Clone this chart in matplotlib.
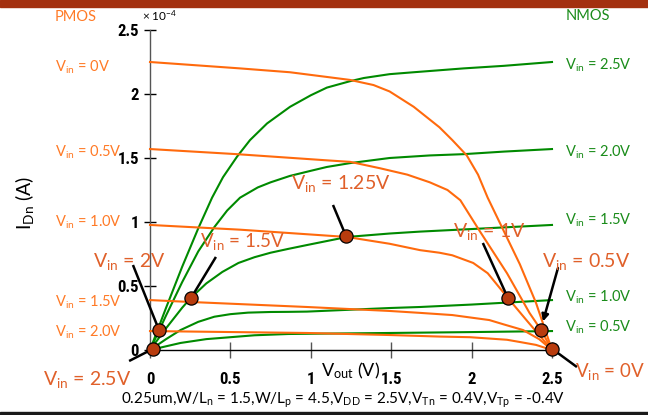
import matplotlib
matplotlib.use('Agg')
import matplotlib.pyplot as plt
from matplotlib import font_manager as fm
from matplotlib.patches import Rectangle

# ---------------- data (I in units of 1e-4 A) ----------------
vin_nmos = ['2.5V', '2.0V', '1.5V', '1.0V', '0.5V']
vin_pmos = ['0V', '0.5V', '1.0V', '1.5V', '2.0V']

nmos_25_x = [0, 0.1, 0.2, 0.3, 0.386, 0.454, 0.541, 0.622, 0.728, 0.871, 1.0, 1.10, 1.244, 1.33, 1.49, 1.64, 1.95, 2.2, 2.5]
nmos_25_y = [0, 0.33, 0.65, 0.95, 1.19, 1.35, 1.51, 1.64, 1.77, 1.90, 1.99, 2.05, 2.10, 2.125, 2.155, 2.17, 2.20, 2.22, 2.25]
nmos_20_x = [0, 0.1, 0.2, 0.3, 0.40, 0.48, 0.56, 0.67, 0.75, 0.87, 1.0, 1.10, 1.244, 1.49, 1.74, 1.95, 2.2, 2.5]
nmos_20_y = [0, 0.27, 0.53, 0.77, 0.96, 1.09, 1.19, 1.27, 1.31, 1.36, 1.40, 1.43, 1.46, 1.50, 1.52, 1.53, 1.55, 1.57]
nmos_15_x = [0, 0.1, 0.2, 0.253, 0.35, 0.45, 0.55, 0.65, 0.75, 0.86, 0.976, 1.225, 1.49, 1.68, 2.0, 2.5]
nmos_15_y = [0, 0.17, 0.33, 0.406, 0.52, 0.61, 0.68, 0.725, 0.76, 0.79, 0.82, 0.883, 0.91, 0.925, 0.945, 0.977]
nmos_10_x = [0, 0.1, 0.19, 0.3, 0.40, 0.5, 0.61, 0.75, 0.86, 0.976, 1.49, 1.68, 2.0, 2.5]
nmos_10_y = [0, 0.085, 0.156, 0.22, 0.26, 0.28, 0.292, 0.297, 0.298, 0.30, 0.328, 0.336, 0.355, 0.39]
nmos_05_x = [0, 0.19, 0.35, 0.50, 0.65, 0.86, 1.0, 1.49, 2.0, 2.5]
nmos_05_y = [0, 0.055, 0.085, 0.10, 0.115, 0.125, 0.127, 0.133, 0.14, 0.148]

pmos_00_x = [0, 0.56, 0.87, 1.12, 1.244, 1.39, 1.49, 1.64, 1.80, 1.88, 1.97, 2.04, 2.10, 2.20, 2.30, 2.40, 2.5]
pmos_00_y = [2.25, 2.20, 2.17, 2.13, 2.11, 2.07, 2.02, 1.90, 1.74, 1.64, 1.52, 1.37, 1.19, 0.93, 0.67, 0.37, 0.0]
pmos_05_x = [0, 0.54, 1.12, 1.244, 1.43, 1.60, 1.74, 1.85, 1.93, 2.05, 2.22, 2.36, 2.43, 2.5]
pmos_05_y = [1.57, 1.53, 1.48, 1.47, 1.42, 1.37, 1.31, 1.25, 1.17, 0.93, 0.60, 0.29, 0.16, 0.0]
pmos_10_x = [0, 0.56, 1.225, 1.49, 1.68, 1.80, 1.88, 2.01, 2.10, 2.226, 2.35, 2.5]
pmos_10_y = [0.977, 0.94, 0.883, 0.83, 0.78, 0.76, 0.74, 0.68, 0.60, 0.406, 0.22, 0.0]
pmos_15_x = [0, 0.255, 0.976, 1.49, 1.68, 1.88, 2.11, 2.20, 2.32, 2.42, 2.5]
pmos_15_y = [0.39, 0.375, 0.336, 0.305, 0.29, 0.273, 0.234, 0.20, 0.156, 0.085, 0.0]
pmos_20_x = [0, 0.976, 1.49, 1.80, 1.99, 2.22, 2.30, 2.40, 2.5]
pmos_20_y = [0.148, 0.133, 0.117, 0.105, 0.10, 0.08, 0.0625, 0.04, 0.0]

nmos_x = [nmos_25_x, nmos_20_x, nmos_15_x, nmos_10_x, nmos_05_x]
nmos_y = [nmos_25_y, nmos_20_y, nmos_15_y, nmos_10_y, nmos_05_y]
pmos_x = [pmos_00_x, pmos_05_x, pmos_10_x, pmos_15_x, pmos_20_x]
pmos_y = [pmos_00_y, pmos_05_y, pmos_10_y, pmos_15_y, pmos_20_y]

# operating points (intersections) and pointer tails
op_labels = ['2.5V', '2V', '1.5V', '1.25V', '1V', '0.5V', '0V']
op_x = [0.02, 0.056, 0.255, 1.219, 2.226, 2.43, 2.50]
op_y = [0.01, 0.156, 0.406, 0.89, 0.406, 0.16, 0.01]
tail_x = [-0.13, -0.106, 0.41, 1.138, 2.07, 2.537, 2.655]
tail_y = [-0.086, 0.664, 0.727, 1.133, 0.836, 0.64, -0.133]

tick_vals = [0, 0.5, 1, 1.5, 2, 2.5]
tick_text = ['0', '0.5', '1', '1.5', '2', '2.5']

# ---------------- style ----------------
names = {f.name for f in fm.fontManager.ttflist}
TICK_STRETCH = 'normal'
if 'Liberation Sans Narrow' in names:
    TICKF = ['Liberation Sans Narrow', 'DejaVu Sans']
elif 'Roboto Condensed' in names:
    TICKF = ['Roboto Condensed', 'DejaVu Sans']
elif any(f.name == 'DejaVu Sans' and f.stretch not in ('normal', 500) for f in fm.fontManager.ttflist):
    TICKF = ['DejaVu Sans']
    TICK_STRETCH = 'condensed'
else:
    TICKF = ['Liberation Sans', 'DejaVu Sans']
LABF = ['Lato', 'DejaVu Sans']
plt.rcParams['mathtext.default'] = 'regular'

ORANGE = '#FF6A0D'
ORANGE_LBL = '#FF7A26'
ORANGE_BIG = '#E0602A'
GREEN = '#008A00'
GREEN_LBL = '#1A8C1A'
DOT = '#B83C0E'

W, H = 648, 415
fig = plt.figure(figsize=(W / 100, H / 100), dpi=100)
ax = fig.add_axes([150 / W, 65 / H, 402 / W, 320 / H])


def fx(px):
    return px / W


def fy(py):
    return 1 - py / H


for xs, ys in zip(nmos_x, nmos_y):
    ax.plot(xs, ys, color=GREEN, lw=1.5, clip_on=False, zorder=3, solid_joinstyle='round')
for xs, ys in zip(pmos_x, pmos_y):
    ax.plot(xs, ys, color=ORANGE, lw=1.5, clip_on=False, zorder=3, solid_joinstyle='round')

for i in range(len(op_x)):
    if op_labels[i] == '0.5V':
        ax.annotate('', xy=(op_x[i], op_y[i]), xytext=(tail_x[i], tail_y[i]),
                    arrowprops=dict(arrowstyle='-|>', color='black', lw=1.8,
                                    shrinkA=0, shrinkB=6, mutation_scale=10),
                    annotation_clip=False, zorder=4)
    else:
        ax.plot([tail_x[i], op_x[i]], [tail_y[i], op_y[i]], color='black', lw=1.8,
                clip_on=False, zorder=4, solid_capstyle='butt')
ax.plot(op_x, op_y, 'o', ms=9.5, mfc=DOT, mec='black', mew=0.9, clip_on=False, zorder=5, ls='none')

ax.set_xlim(0, 2.5)
ax.set_ylim(0, 2.5)
for s in ['top', 'right']:
    ax.spines[s].set_visible(False)
ax.spines['left'].set_color('#555555')
ax.spines['left'].set_linewidth(1.0)
ax.spines['bottom'].set_color('black')
ax.spines['bottom'].set_linewidth(1.0)
ax.set_xticks(tick_vals)
ax.set_xticklabels(tick_text)
ax.set_yticks(tick_vals)
ax.set_yticklabels(tick_text)
ax.tick_params(axis='y', direction='inout', length=8, width=1, pad=4, colors='black')
ax.tick_params(axis='x', direction='inout', length=11, width=1, pad=10, color='#555555')
for lab in ax.get_xticklabels() + ax.get_yticklabels():
    lab.set_family(TICKF)
    lab.set_fontweight('bold')
    lab.set_fontstretch(TICK_STRETCH)
    lab.set_fontsize(12)

# background bands
fig.patches.append(Rectangle((0, fy(7)), 1, 7 / H, transform=fig.transFigure, color='#A3300F', zorder=0))
fig.patches.append(Rectangle((0, 0), 1, 3.5 / H, transform=fig.transFigure, color='#1a1a1a', zorder=0))

# headers
fig.text(fx(55), fy(21), 'PMOS', color=ORANGE_LBL, family=LABF, fontsize=10.5, va='baseline')
fig.text(fx(566), fy(20), 'NMOS', color=GREEN_LBL, family=LABF, fontsize=10.5, va='baseline')
fig.text(fx(142), fy(21), '× 10$^{-4}$', color='black', family=LABF, fontsize=8.5, va='baseline')

left_base = [72, 157, 227, 307, 337]
for t, b in zip(vin_pmos, left_base):
    fig.text(fx(55), fy(b), 'V$_{in}$ = ' + t, color=ORANGE_LBL, family=LABF, fontsize=10.5, va='baseline')
right_base = [70, 157, 225, 302, 332]
for t, b in zip(vin_nmos, right_base):
    fig.text(fx(565), fy(b), 'V$_{in}$ = ' + t, color=GREEN_LBL, family=LABF, fontsize=10.5, va='baseline')

big_pos = [(43, 385, 14), (93, 267, 14), (200, 247, 13.5), (291, 189, 14), (453, 237, 14), (542, 267, 14), (575, 377, 13.5)]
for t, (px, pb, fs) in zip(op_labels, big_pos):
    fig.text(fx(px), fy(pb), 'V$_{in}$ = ' + t, color=ORANGE_BIG, family=LABF, fontsize=fs, va='baseline')

# axis labels
fig.text(fx(24), fy(203), 'I$_{Dn}$ (A)', rotation=90, family=LABF, fontsize=14, ha='center', va='center')
fig.text(fx(321), fy(376), 'V$_{out}$ (V)', family=LABF, fontsize=13, va='baseline')
fig.text(fx(343), fy(404), '0.25um,W/L$_{n}$ = 1.5,W/L$_{p}$ = 4.5,V$_{DD}$ = 2.5V,V$_{Tn}$ = 0.4V,V$_{Tp}$ = -0.4V',
         family=LABF, fontsize=11, ha='center', va='baseline')

fig.savefig('out.png', dpi=100)
